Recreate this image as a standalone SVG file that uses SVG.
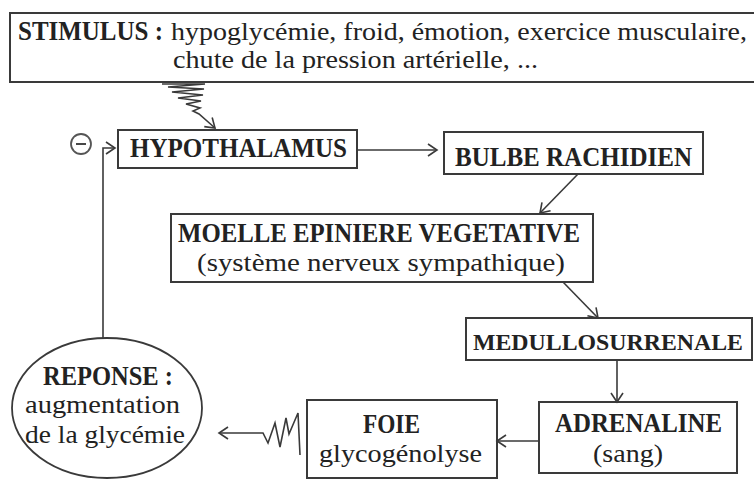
<svg xmlns="http://www.w3.org/2000/svg" width="754" height="481" viewBox="0 0 754 481">
<defs>
<style>
.box{fill:#fff;stroke:#3a3a3a;stroke-width:2}
.t{font-family:"Liberation Serif","Times New Roman",serif;font-size:26px;fill:#222}
.b{font-weight:bold;font-size:27px}
.c{fill:none;stroke:#3a3a3a;stroke-width:1.6}
</style>
<marker id="ah" viewBox="0 0 12 14" refX="10" refY="7" markerWidth="12" markerHeight="14" markerUnits="userSpaceOnUse" orient="auto">
<path d="M1,1 L10,7 L1,13" fill="none" stroke="#3a3a3a" stroke-width="1.6"/>
</marker>
</defs>
<rect width="754" height="481" fill="#fff"/>

<g id="stimulus">
<rect class="box" x="10" y="13" width="752" height="69"/>
<text class="t b" x="18" y="40" textLength="145" lengthAdjust="spacingAndGlyphs">STIMULUS :</text>
<text class="t" x="171" y="40" textLength="576" lengthAdjust="spacingAndGlyphs">hypoglycémie, froid, émotion, exercice musculaire,</text>
<text class="t" x="173" y="68" textLength="365" lengthAdjust="spacingAndGlyphs">chute de la pression artérielle, ...</text>
</g>

<g id="hypothalamus">
<rect class="box" x="118" y="130" width="239" height="38"/>
<text class="t b" x="130" y="157" textLength="217" lengthAdjust="spacingAndGlyphs">HYPOTHALAMUS</text>
</g>

<g id="minus">
<circle cx="81" cy="144" r="10" fill="none" stroke="#555" stroke-width="1.8"/>
<line x1="76" y1="144" x2="86" y2="144" stroke="#333" stroke-width="1.8"/>
</g>

<g id="bulbe">
<rect class="box" x="444" y="132" width="259" height="42"/>
<text class="t b" x="455" y="166" textLength="237" lengthAdjust="spacingAndGlyphs">BULBE RACHIDIEN</text>
</g>

<g id="moelle">
<rect class="box" x="171" y="214" width="422" height="68"/>
<text class="t b" x="178" y="242" textLength="402" lengthAdjust="spacingAndGlyphs">MOELLE EPINIERE VEGETATIVE</text>
<text class="t" x="197" y="271" textLength="368" lengthAdjust="spacingAndGlyphs">(système nerveux sympathique)</text>
</g>

<g id="medullo">
<rect class="box" x="466" y="318" width="286" height="42"/>
<text class="t b" x="473" y="350" style="font-size:23.5px" textLength="270" lengthAdjust="spacingAndGlyphs">MEDULLOSURRENALE</text>
</g>

<g id="adrenaline">
<rect class="box" x="539" y="402" width="198" height="71"/>
<text class="t b" x="555" y="432" textLength="167" lengthAdjust="spacingAndGlyphs">ADRENALINE</text>
<text class="t" x="593" y="462" textLength="70" lengthAdjust="spacingAndGlyphs">(sang)</text>
</g>

<g id="foie">
<rect class="box" x="307" y="400" width="190" height="78"/>
<text class="t b" x="363" y="433" textLength="57" lengthAdjust="spacingAndGlyphs">FOIE</text>
<text class="t" x="319" y="462" textLength="163" lengthAdjust="spacingAndGlyphs">glycogénolyse</text>
</g>

<g id="reponse">
<ellipse cx="107" cy="408" rx="95" ry="70" fill="#fff" stroke="#3a3a3a" stroke-width="1.8"/>
<text class="t b" x="43" y="385" textLength="130" lengthAdjust="spacingAndGlyphs">REPONSE :</text>
<text class="t" x="25" y="413" textLength="155" lengthAdjust="spacingAndGlyphs">augmentation</text>
<text class="t" x="25" y="443" textLength="160" lengthAdjust="spacingAndGlyphs">de la glycémie</text>
</g>

<g id="connectors">
<polyline class="c" points="162,84 205,84 168,87 204,89 172,92 203,95 178,98 201,101 186,104 200,108 193,111 199,114 215,128" marker-end="url(#ah)"/>
<line class="c" x1="357" y1="150" x2="437" y2="150" marker-end="url(#ah)"/>
<line class="c" x1="578" y1="174" x2="540" y2="213" marker-end="url(#ah)"/>
<line class="c" x1="563" y1="282" x2="598" y2="318" marker-end="url(#ah)"/>
<line class="c" x1="617" y1="360" x2="617" y2="402" marker-end="url(#ah)"/>
<line class="c" x1="539" y1="441" x2="497" y2="441" marker-end="url(#ah)"/>
<polyline class="c" points="300,455 298,413 289,434 286,418 280,447 275,423 268,443 263,433 219,433" marker-end="url(#ah)"/>
<polyline class="c" points="103,338 103,148 115,148" marker-end="url(#ah)"/>
</g>
</svg>
